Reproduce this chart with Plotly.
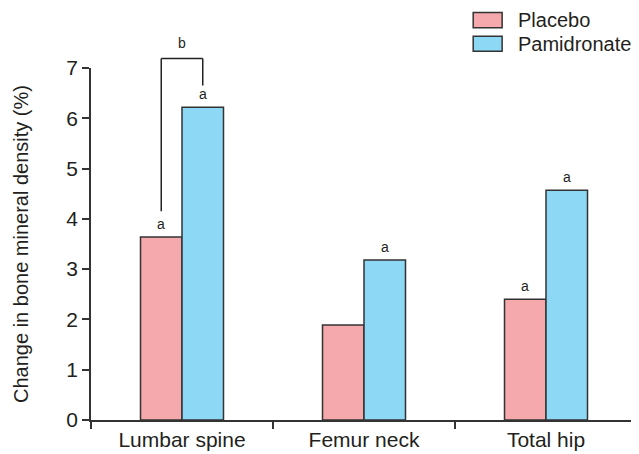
import plotly.graph_objects as go

categories = ["Lumbar spine", "Femur neck", "Total hip"]
placebo = [3.64, 1.89, 2.40]
pamidronate = [6.22, 3.18, 4.57]
placebo_labels = ["a", "", "a"]
pamidronate_labels = ["a", "a", "a"]
series_names = ["Placebo", "Pamidronate"]
y_ticks = [0, 1, 2, 3, 4, 5, 6, 7]

# significance bracket between lumbar spine bars
bracket_left_bottom = 4.15
bracket_top = 7.19
bracket_right_bottom = 6.65
bracket_label = "b"

YMAX = 7
BARGAP = 0.544
OFF = (1 - BARGAP) / 4

PINK = "#F5A9AC"
BLUE = "#8DD8F5"
EDGE = "#333333"
TXT = "#231F20"
FONT = "Liberation Sans, Arial, sans-serif"

fig = go.Figure()
fig.add_trace(go.Bar(x=categories, y=placebo, name=series_names[0],
                     marker=dict(color=PINK, line=dict(color=EDGE, width=1.5))))
fig.add_trace(go.Bar(x=categories, y=pamidronate, name=series_names[1],
                     marker=dict(color=BLUE, line=dict(color=EDGE, width=1.5))))

annotations = []
for i, (v, t) in enumerate(zip(placebo, placebo_labels)):
    if t:
        annotations.append(dict(x=i - OFF, y=v, xref="x", yref="y", text=t, showarrow=False,
                                yanchor="bottom", yshift=3, font=dict(size=14, color=TXT, family=FONT)))
for i, (v, t) in enumerate(zip(pamidronate, pamidronate_labels)):
    if t:
        annotations.append(dict(x=i + OFF, y=v, xref="x", yref="y", text=t, showarrow=False,
                                yanchor="bottom", yshift=3, font=dict(size=14, color=TXT, family=FONT)))
annotations.append(dict(x=0, y=bracket_top / YMAX, xref="x", yref="paper", text=bracket_label,
                        showarrow=False, yanchor="bottom", yshift=5,
                        font=dict(size=14, color=TXT, family=FONT)))

shapes = []
line_style = dict(color="#222222", width=1.5)
shapes.append(dict(type="line", xref="x", yref="paper", x0=-OFF, x1=-OFF,
                   y0=bracket_left_bottom / YMAX, y1=bracket_top / YMAX, line=line_style))
shapes.append(dict(type="line", xref="x", yref="paper", x0=-OFF, x1=OFF,
                   y0=bracket_top / YMAX, y1=bracket_top / YMAX, line=line_style))
shapes.append(dict(type="line", xref="x", yref="paper", x0=OFF, x1=OFF,
                   y0=bracket_top / YMAX, y1=bracket_right_bottom / YMAX, line=line_style))

# manual legend (large swatches)
legend_items = [(series_names[0], PINK, 1.136), (series_names[1], BLUE, 1.069)]
for name, col, yc in legend_items:
    shapes.append(dict(type="rect", xref="paper", yref="paper", x0=0.700, x1=0.753,
                       y0=yc - 0.0215, y1=yc + 0.0215, fillcolor=col,
                       line=dict(color=EDGE, width=1.5)))
    annotations.append(dict(x=0.779, y=yc, xref="paper", yref="paper", text=name, showarrow=False,
                            xanchor="left", yanchor="middle",
                            font=dict(size=20, color=TXT, family=FONT)))

# the page body adds an 8px offset; compensate so the plot area sits where the reference has it
fig.update_layout(
    width=631, height=446,
    margin=dict(l=83, r=2, t=60, b=34),
    paper_bgcolor="white", plot_bgcolor="white",
    barmode="group", bargap=BARGAP, bargroupgap=0,
    showlegend=False,
    font=dict(family=FONT, size=20, color=TXT),
    annotations=annotations,
    shapes=shapes,
    xaxis=dict(type="category", range=[-0.5, 2.5], showline=True, linecolor=EDGE, linewidth=1.5,
               ticks="outside", tickson="boundaries", ticklen=7, tickwidth=1.5, tickcolor=EDGE,
               showgrid=False, zeroline=False, tickfont=dict(size=21, color=TXT)),
    yaxis=dict(range=[0, YMAX], tickvals=y_ticks, showline=True, linecolor=EDGE, linewidth=1.5,
               ticks="outside", ticklen=7, tickwidth=1.5, tickcolor=EDGE,
               showgrid=False, zeroline=False, tickfont=dict(size=21, color=TXT),
               title=dict(text="Change in bone mineral density (%)", font=dict(size=20, color=TXT),
                          standoff=32)),
)

fig.write_html("out.html")
